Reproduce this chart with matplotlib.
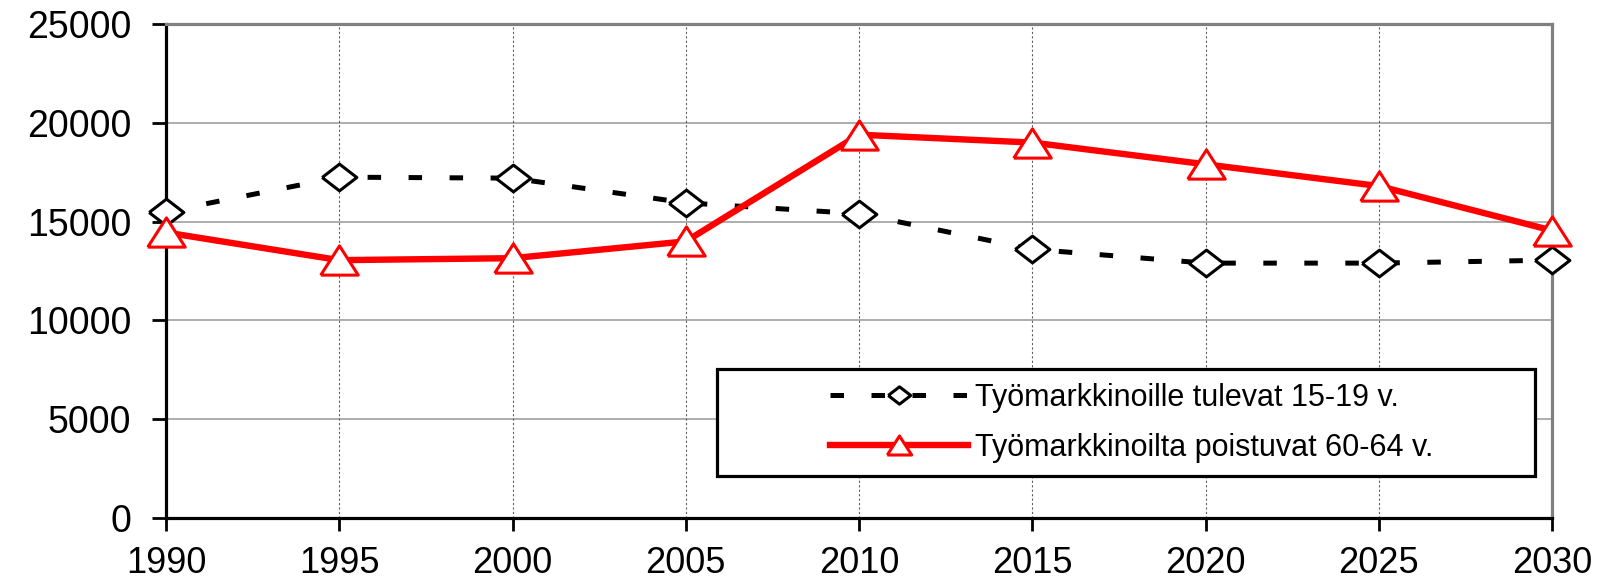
import matplotlib
matplotlib.use("Agg")
import matplotlib.pyplot as plt
from matplotlib.patches import Rectangle

# data
years = [1990, 1995, 2000, 2005, 2010, 2015, 2020, 2025, 2030]
entrants = [15500, 17250, 17200, 15950, 15400, 13600, 12900, 12900, 13050]
leavers = [14450, 13050, 13150, 14000, 19400, 19000, 17900, 16800, 14550]
label_entrants = "Työmarkkinoille tulevat 15-19 v."
label_leavers = "Työmarkkinoilta poistuvat 60-64 v."
yticks = [0, 5000, 10000, 15000, 20000, 25000]

plt.rcParams['font.family'] = ['Liberation Sans', 'DejaVu Sans']

fig = plt.figure(figsize=(16.07, 5.87), dpi=100)
ax = fig.add_axes([0.1033, 0.1175, 0.8625, 0.8416])

diamond = [(-1, 0), (0, 0.77), (1, 0), (0, -0.77), (-1, 0)]
triangle = [(-1, -0.78), (0, 0.78), (1, -0.78), (-1, -0.78)]

ax.plot(years, entrants, color='black', lw=3.6, linestyle=(0, (2.7, 5.5)),
        marker=diamond, markersize=25, markerfacecolor='white',
        markeredgecolor='black', markeredgewidth=2.2, clip_on=False,
        zorder=3, label=label_entrants)
ax.plot(years, leavers, color='red', lw=4.6,
        marker=triangle, markersize=27, markerfacecolor='white',
        markeredgecolor='red', markeredgewidth=2.2, clip_on=False,
        zorder=3, label=label_leavers)

ax.set_xlim(1990, 2030)
ax.set_ylim(0, 25000)
ax.set_xticks(years)
ax.set_yticks(yticks)

# grid: horizontal solid gray, vertical dotted
for y in yticks[1:]:
    ax.axhline(y, color='#a0a0a0', lw=1.2, zorder=1)
for x in years[1:-1]:
    ax.axvline(x, color='#606060', lw=0.8, linestyle=(0, (2, 2)), zorder=1)

for side in ['left', 'bottom']:
    ax.spines[side].set_color('black')
    ax.spines[side].set_linewidth(2.3)
for side in ['top', 'right']:
    ax.spines[side].set_color('#808080')
    ax.spines[side].set_linewidth(2.3)

ax.tick_params(axis='y', direction='out', length=10, width=2, pad=15, labelsize=27)
ax.tick_params(axis='x', direction='out', length=9, width=2, pad=11, labelsize=26)

# legend box
box = Rectangle((0.3975, 0.085), 0.5902, 0.2166, transform=ax.transAxes,
                facecolor='white', edgecolor='black', lw=2.3, zorder=4)
ax.add_patch(box)
leg = ax.legend(loc='center', bbox_to_anchor=(0.697, 0.193), frameon=False,
                fontsize=22, handlelength=4.5, handletextpad=0.25,
                labelspacing=0.65, markerscale=0.65)
leg.set_zorder(5)

fig.savefig('out.png', dpi=100)
